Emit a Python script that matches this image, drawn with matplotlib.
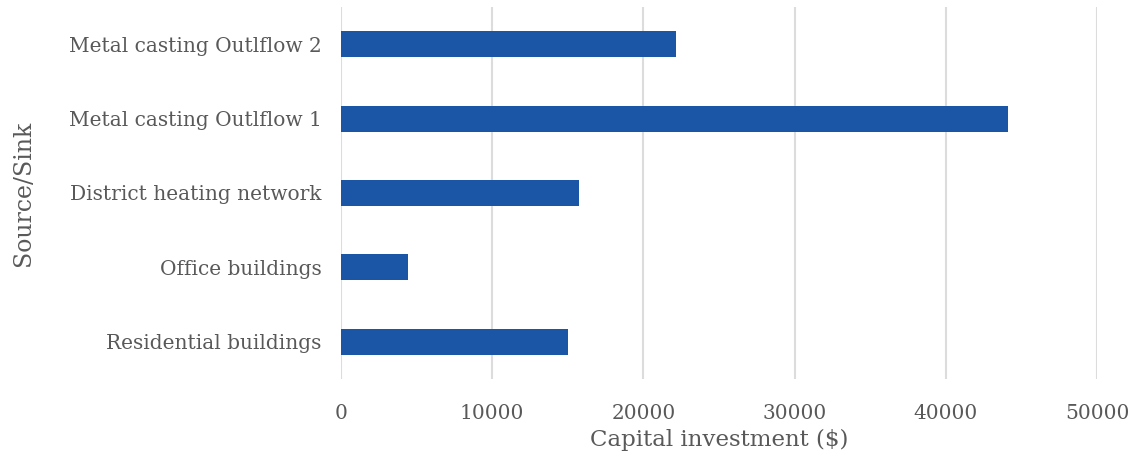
import matplotlib.pyplot as plt
import numpy as np

# Capital investment per source/sink
categories = ['Residential buildings', 'Office buildings', 'District heating network',
              'Metal casting Outlflow 1', 'Metal casting Outlflow 2']
investment = [15020, 4430, 15750, 44080, 22170]
xticks = [0, 10000, 20000, 30000, 40000, 50000]

plt.rcParams['font.family'] = ['DejaVu Serif']
text_color = '#595959'

fig = plt.figure(figsize=(11.38, 4.66), dpi=100)
ax = fig.add_axes([0.2996, 0.1867, 0.6644, 0.7983])

y = np.arange(len(categories))
ax.barh(y, investment, height=0.35, color='#1B55A5', zorder=3)

ax.set_xlim(0, 50000)
ax.set_ylim(-0.5, len(categories) - 0.5)
ax.set_xticks(xticks)
ax.set_xticklabels([str(t) for t in xticks])
ax.set_yticks(y)
ax.set_yticklabels(categories)

ax.grid(axis='x', color='#dcdcdc', linewidth=1.5, zorder=0)
for s in ax.spines.values():
    s.set_visible(False)
ax.tick_params(axis='both', length=0, colors=text_color)
ax.tick_params(axis='x', pad=18, labelsize=14.5)
ax.tick_params(axis='y', pad=14, labelsize=14.5)

ax.set_xlabel('Capital investment ($)', fontsize=16.5, color=text_color, labelpad=4)
ax.set_ylabel('Source/Sink', fontsize=17, color=text_color, labelpad=24)

fig.savefig('out.png', dpi=100)
